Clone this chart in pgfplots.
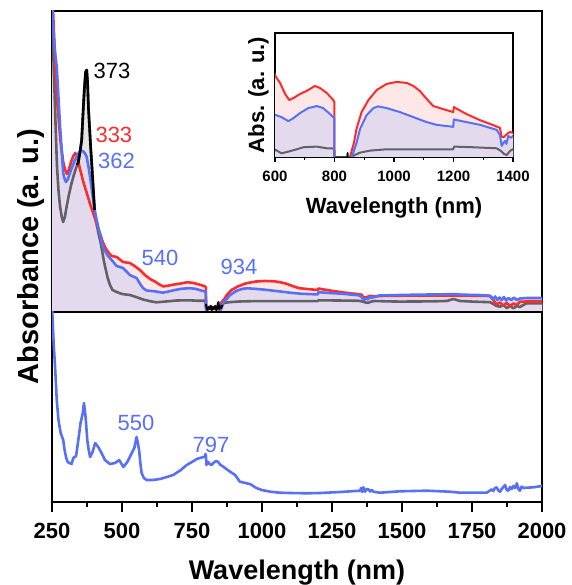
\documentclass[border=0pt]{standalone}
\usepackage{fontspec}
\setmainfont{Liberation Sans}
\usepackage{pgfplots}
\usepackage{pgfplotstable}
\pgfplotsset{compat=1.18}
\definecolor{cred}{RGB}{250,45,45}
\definecolor{cblue}{RGB}{88,112,245}
\definecolor{cgray}{RGB}{100,96,104}
\definecolor{fpink}{RGB}{253,231,231}
\definecolor{flav}{RGB}{227,219,237}
\definecolor{fgray}{RGB}{228,228,228}

\pgfplotstableread{
x y
250 300
253 279
256 245
260 212
264 175
268 145
273 122
279 105
285 95
290 90
296 95
302 105
311 118
320 129
328 137
337 145
344 150
350 160
356 172
362 205
366 225
370 240
374 242
377 230
380 205
384 185
388 165
392 148
397 125
404 95
415 80
424 69
436 50
448 35
457 27
466 22
481 20
500 18
528 17
550 15
575 12.5
600 10.8
622 9.7
645 10.2
673 10.9
695 11.5
740 11.7
774 11.2
798 11.2
801 5
805 2
809 5
813 3
817 6
821 2
825 5
829 3
833 6
837 2
841 5
844 9.8
847 3
851 6
855 4
859 7
863 9.0
886 9.9
919 10.5
975 10.9
1087 10.9
1199 10.9
1202 11.7
1267 11.5
1345 11.2
1356 10.6
1362 10.2
1370 9.5
1379 9.2
1390 10.4
1401 11.0
1450 10.6
1493 10.4
1600 10.6
1660 11
1683 13
1695 12
1707 11
1760 10.3
1814 9.8
1826 8
1838 6
1850 5.3
1862 7
1874 4
1886 6
1898 3.7
1910 6
1921 5
1933 7
1945 8.7
2000 8.7
}\graytab

\pgfplotstableread{
x y
340 147
344 150
350 160
356 172
362 205
366 225
370 240
374 242
377 230
380 205
384 185
388 165
392 148
397 125
402 102
}\peaktab

\pgfplotstableread{
x y
800 8
801 5
805 2
809 5
813 3
817 6
821 2
825 5
829 3
833 6
837 2
841 5
844 9.8
847 3
851 6
855 4
859 7
}\gaptab

\pgfplotstableread{
x y
250 330
254 300
262 245
270 205
280 172
290 150
297 142
303 138
310 142
318 150
326 156
333 159
340 155
350 143
362 130
374 119
386 108
397 99
410 88
421 79
430 71
439 65
450 60
463 56
481 55
504 50
528 49
545 46
564 42
582 37
603 32.5
617 30.7
634 27.4
648 25.6
662 26.2
684 27.4
706 28.3
734 29.8
751 29.2
774 27.7
796 25.6
799.5 25.0
800.5 -5
845 -5
852 8.6
866 13.1
874 17.0
891 22.0
914 25.6
942 28.6
975 30.4
1009 31.0
1043 30.7
1065 29.8
1087 28.3
1110 25.9
1132 23.8
1165 22.9
1199 22.0
1201 23.5
1244 21.4
1289 19.6
1334 18.1
1356 17.3
1362 14.6
1370 14.6
1380 15.5
1390 16.1
1400 15.8
1420 16
1500 16.3
1600 16.5
1700 16.5
1814 16
1826 12
1838 7.5
1850 9.5
1862 6.5
1874 9
1886 6
1898 8.5
1910 7
1921 10.3
1945 10.5
2000 10.5
}\redtab

\pgfplotstableread{
x y
250 320
252 292
260 262
267 245
273 215
279 185
285 160
290 139
295 133
300 130
307 133
314 139
322 145
332 152
340 156
347 160
354 161
360 161
367 159
374 155
380 146
386 135
392 123
397 112
405 98
415 85
424 74
432 65
439 61
450 56
463 52
481 46
504 44
528 37
552 34
565 28
575 24
588 21.5
603 21.1
622 20.5
645 19.3
662 20.2
684 21.7
712 23.2
740 23.8
762 23.2
785 21.4
799.5 20.2
800.5 -5
848 -5
858 8.6
874 12.8
886 17.0
908 21.1
931 23.2
947 23.7
975 23.2
1020 22.0
1065 20.5
1110 19.0
1143 18.2
1199 17.6
1201 19.8
1244 19.0
1289 18.2
1345 16.7
1356 15.2
1362 11.9
1368 12.8
1373 13.4
1378 12.5
1384 14.9
1392 14.3
1400 14.9
1420 16.5
1493 17
1550 17.3
1600 17.5
1683 17.8
1720 17.3
1770 17
1814 16.3
1826 13
1833 15.5
1840 12
1848 14.5
1856 12
1864 15
1872 11.5
1880 14
1890 12
1900 14.5
1910 12
1921 13.5
1945 14
1969 14
2000 14
}\bluetab

\pgfplotstableread{
x y
250 195
252 184
256 158
261 135
267 102
273 82
281 69
290 62
295 52
300 45
306 40
312 39
320 38
326 44
336 46
344 62
352 79
360 89
364 99
367 92
370 85
376 62
381 52
386 45
395 50
404 59
415 55
427 49
439 42
457 38
475 39
490 42
505 35
519 40
535 49
544 54
552 65
556 60
561 52
566 38
570 29
578 24
588 22
610 22
636 23
660 25
683 27
710 32
731 37
750 40
767 43
785 44.5
796 45.3
798 48
800 45
802 37
805 40
808 40
813 38
820 37
826 39
832 40.3
838 41
844 39.7
852 37
862 35.3
875 32.5
886 30.3
904 27
914 23
921 20.3
940 19
957 18
980 14
999 12
1030 10.3
1064 9.3
1100 9
1160 8.7
1207 9
1280 10
1350 11.3
1354 14
1358 10
1362 14.7
1368 10.3
1374 13
1380 12.7
1386 10.5
1392 12
1398 10.3
1421 9.3
1493 10.7
1588 11.3
1671 10.3
1707 9.3
1802 9.3
1812 11
1820 12.7
1826 11
1832 14
1838 14.7
1844 11.5
1850 10.3
1856 13
1862 15
1868 17
1874 12
1880 11.3
1886 15
1892 13
1898 16
1904 14
1910 18.7
1916 13
1921 11.3
1927 15.3
1935 14
1945 14.3
1969 14.7
2000 16
}\bottomtab

\begin{document}
\begin{tikzpicture}
\useasboundingbox (0,0) rectangle (571pt,585pt);
% top panel
\begin{axis}[at={(52pt,273pt)}, anchor=south west, scale only axis,
  width=490pt, height=301pt, xmin=250, xmax=2000, ymin=0, ymax=301,
  xtick=\empty, ytick=\empty, axis line style={line width=1.4pt},
  every axis plot/.append style={line join=round}]
\addplot[fill=fgray, draw=none] table {\graytab} \closedcycle;
\addplot[fill=fpink, draw=none] table {\redtab} \closedcycle;
\addplot[fill=flav, draw=none] table {\bluetab} \closedcycle;
\addplot[cgray, line width=2.6pt] table {\graytab};
\addplot[cred, line width=2.6pt] table {\redtab};
\addplot[cblue, line width=2.6pt] table {\bluetab};
\addplot[black, line width=2.6pt] table {\peaktab};
\addplot[black, line width=1.8pt] table {\gaptab};
\node[anchor=base, font=\fontsize{22}{22}\selectfont] at (axis cs:464,233) {373};
\node[anchor=base, text=cred, font=\fontsize{22}{22}\selectfont] at (axis cs:471,169) {333};
\node[anchor=base, text=cblue, font=\fontsize{22}{22}\selectfont] at (axis cs:480,143) {362};
\node[anchor=base, text=cblue, font=\fontsize{22}{22}\selectfont] at (axis cs:636,46) {540};
\node[anchor=base, text=cblue, font=\fontsize{22}{22}\selectfont] at (axis cs:918,37) {934};
\end{axis}
% bottom panel
\begin{axis}[at={(52pt,83pt)}, anchor=south west, scale only axis,
  width=490pt, height=190pt, xmin=250, xmax=2000, ymin=0, ymax=190,
  ytick=\empty, xtick={250,500,...,2000}, minor x tick num=1,
  tick align=outside, xtick pos=left, major tick length=10pt, minor tick length=5pt,
  every tick/.style={black, line width=1.3pt},
  axis line style={line width=1.4pt},
  /pgf/number format/1000 sep={}, /pgf/number format/assume math mode=true,
  xticklabel style={font=\bfseries\fontsize{22}{22}\selectfont, anchor=base, yshift=-26pt},
  xlabel={Wavelength (nm)},
  xlabel style={font=\bfseries\fontsize{27}{27}\selectfont, at={(axis description cs:0.5,0)}, anchor=base, yshift=-77pt},
  every axis plot/.append style={line join=round}]
\addplot[cblue, line width=2.6pt] table {\bottomtab};
\node[anchor=base, text=cblue, font=\fontsize{22}{22}\selectfont] at (axis cs:550,71.3) {550};
\node[anchor=base, text=cblue, font=\fontsize{22}{22}\selectfont] at (axis cs:818,49.3) {797};
\end{axis}
% inset
\begin{axis}[at={(275pt,428pt)}, anchor=south west, scale only axis,
  width=238pt, height=124pt, xmin=600, xmax=1400, ymin=8.6, ymax=45.6,
  ytick=\empty, xtick={600,800,...,1400}, minor x tick num=1,
  tick align=outside, xtick pos=left, major tick length=5pt, minor tick length=3pt,
  every tick/.style={black, line width=1.1pt},
  axis line style={line width=1.3pt},
  axis background/.style={fill=white},
  /pgf/number format/1000 sep={}, /pgf/number format/assume math mode=true,
  xticklabel style={font=\bfseries\fontsize{15}{15}\selectfont, anchor=base, yshift=-19.7pt},
  xlabel={Wavelength (nm)},
  xlabel style={font=\bfseries\fontsize{22}{22}\selectfont, at={(axis description cs:0.5,0)}, anchor=base, yshift=-57pt},
  every axis plot/.append style={line join=round}]
\addplot[fill=fgray, draw=none] table {\graytab} \closedcycle;
\addplot[fill=fpink, draw=none] table {\redtab} \closedcycle;
\addplot[fill=flav, draw=none] table {\bluetab} \closedcycle;
\addplot[cgray, line width=2pt] table {\graytab};
\addplot[cred, line width=2pt] table {\redtab};
\addplot[cblue, line width=2pt] table {\bluetab};
\addplot[black, line width=1.5pt] table {\gaptab};
\end{axis}
\node[rotate=90, anchor=base, font=\bfseries\fontsize{29}{29}\selectfont] at (38pt,328.5pt) {Absorbance (a. u.)};
\node[rotate=90, anchor=base, font=\bfseries\fontsize{22}{22}\selectfont] at (264pt,490pt) {Abs. (a. u.)};
\end{tikzpicture}
\end{document}
